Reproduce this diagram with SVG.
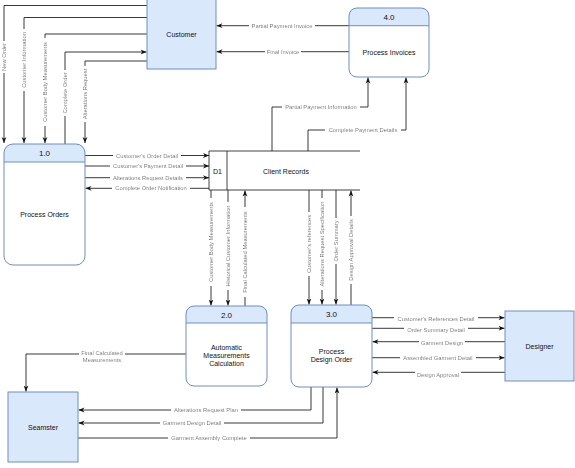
<svg xmlns="http://www.w3.org/2000/svg" width="575" height="468" viewBox="0 0 575 468">
<defs>
<marker id="arr" viewBox="0 0 10 10" refX="10" refY="5" markerWidth="6" markerHeight="6" markerUnits="userSpaceOnUse" orient="auto"><path d="M0,1 L10,5 L0,9 L3,5 z" fill="#111"/></marker>
<filter id="bg" x="-0.04" y="0" width="1.08" height="1"><feFlood flood-color="#ffffff"/><feComposite in="SourceGraphic" operator="over"/></filter>
</defs>
<style>
.ext{fill:#dae8fc;stroke:#6c8ebf;stroke-width:1}
.body{fill:#ffffff;stroke:none}
.hdr{fill:#dae8fc;stroke:none}
.out{fill:none;stroke:#6c8ebf;stroke-width:1}
.sep{stroke:#6c8ebf;stroke-width:1}
.ds{fill:none;stroke:#111;stroke-width:0.8}
.nt{font-family:"Liberation Sans",Arial,sans-serif;font-size:7px;fill:#111;text-anchor:middle;dominant-baseline:central}
.nh{font-family:"Liberation Sans",Arial,sans-serif;font-size:8px;fill:#111;text-anchor:middle;dominant-baseline:central}
.c{fill:none;stroke:#222;stroke-width:0.9}
.a{marker-end:url(#arr)}
.l{font-family:"Liberation Sans",Arial,sans-serif;font-size:5.8px;fill:#111;text-anchor:middle;dominant-baseline:central;filter:url(#bg)}
</style>
<rect width="575" height="468" fill="#ffffff"/>

<g id="connectors">
<path class="c a" d="M147,5.5 H4 V143"/>
<path class="c a" d="M147,17.5 H24 V143"/>
<path class="c a" d="M147,34 H45 V143"/>
<path class="c a" d="M65,144 V52 H146.5"/>
<path class="c a" d="M147,61 H85 V143"/>
<path class="c a" d="M349,25.7 H216.5"/>
<path class="c a" d="M349,51.7 H216.5"/>
<path class="c a" d="M272,151 V107 H368 V77.5"/>
<path class="c a" d="M308,151 V130 H406 V77.5"/>
<path class="c a" d="M85,155.5 H209"/>
<path class="c a" d="M85,166 H209"/>
<path class="c a" d="M85,177.7 H209"/>
<path class="c a" d="M209,188.3 H85.5"/>
<path class="c a" d="M211,190 V305.5"/>
<path class="c a" d="M228,190 V305.5"/>
<path class="c a" d="M245,306 V190.5"/>
<path class="c a" d="M309,190 V304.5"/>
<path class="c a" d="M322,190 V304.5"/>
<path class="c a" d="M336,190 V304.5"/>
<path class="c a" d="M351,305 V190.5"/>
<path class="c a" d="M186,354 H26 V391.5"/>
<path class="c a" d="M311,387 V410 H78.5"/>
<path class="c a" d="M323,387 V423 H78.5"/>
<path class="c a" d="M78,438 H337 V387.5"/>
<path class="c a" d="M372,317.7 H504.5"/>
<path class="c a" d="M372,328.3 H504.5"/>
<path class="c a" d="M505,341.7 H372.5"/>
<path class="c a" d="M372,357.7 H504.5"/>
<path class="c a" d="M505,372.3 H372.5"/>

<text class="l" transform="translate(4,57) rotate(-90)">New Order</text>
<text class="l" transform="translate(24,60) rotate(-90)">Customer Information</text>
<text class="l" transform="translate(45,82) rotate(-90)">Customer Body Measurements</text>
<text class="l" transform="translate(65,93) rotate(-90)">Complete Order</text>
<text class="l" transform="translate(85,94) rotate(-90)">Alterations Request</text>
<text class="l" x="282" y="25.7">Partial Payment Invoice</text>
<text class="l" x="283" y="51.7">Final Invoice</text>
<text class="l" x="321" y="107">Partial Payment Information</text>
<text class="l" x="363" y="130">Complete Payment Details</text>
<text class="l" x="147" y="155.5">Customer's Order Detail</text>
<text class="l" x="148" y="166">Customer's Payment Detail</text>
<text class="l" x="148" y="177.7">Alterations Request Details</text>
<text class="l" x="151" y="188.3">Complete Order Notification</text>
<text class="l" transform="translate(211,242) rotate(-90)">Customer Body Measurements</text>
<text class="l" transform="translate(228,246) rotate(-90)">Historical Customer Information</text>
<text class="l" transform="translate(245,252) rotate(-90)">Final Calculated Measurements</text>
<text class="l" transform="translate(309,244) rotate(-90)">Customer's references</text>
<text class="l" transform="translate(322,244) rotate(-90)">Alterations Request Specification</text>
<text class="l" transform="translate(336,241) rotate(-90)">Order Summary</text>
<text class="l" transform="translate(351,250) rotate(-90)">Design Approval Details</text>
<text class="l" x="102" y="353">Final Calculated</text>
<text class="l" x="102" y="360">Measurements</text>
<text class="l" x="206" y="410">Alterations Request Plan</text>
<text class="l" x="192" y="423">Garment Design Detail</text>
<text class="l" x="209" y="438">Garment Assembly Complete</text>
<text class="l" x="436" y="318.7">Customer's References Detail</text>
<text class="l" x="436" y="330">Order Summary Detail</text>
<text class="l" x="442" y="343.3">Garment Design</text>
<text class="l" x="438" y="358">Assembled Garment Detail</text>
<text class="l" x="438" y="374.7">Design Approval</text>
</g>

<g id="customer">
<rect class="ext" x="147" y="-1" width="69" height="70"/>
<text class="nt" x="181.5" y="34">Customer</text>
</g>

<g id="p4">
<rect class="body" x="349" y="8" width="80" height="69" rx="8"/>
<path class="hdr" d="M349,25.7 V16 Q349,8 357,8 H421 Q429,8 429,16 V25.7 Z"/>
<line class="sep" x1="349" y1="25.7" x2="429" y2="25.7"/>
<rect class="out" x="349" y="8" width="80" height="69" rx="8"/>
<text class="nh" x="389" y="17">4.0</text>
<text class="nt" x="389" y="52">Process Invoices</text>
</g>

<g id="p1">
<rect class="body" x="4" y="144" width="81" height="121" rx="9"/>
<path class="hdr" d="M4,162 V153 Q4,144 13,144 H76 Q85,144 85,153 V162 Z"/>
<line class="sep" x1="4" y1="162" x2="85" y2="162"/>
<rect class="out" x="4" y="144" width="81" height="121" rx="9"/>
<text class="nh" x="44.5" y="153.5">1.0</text>
<text class="nt" x="44.5" y="214">Process Orders</text>
</g>

<g id="d1">
<rect class="body" x="209" y="151" width="151" height="39"/>
<path class="ds" d="M360,151 H209 V190 H360 M227,151 V190"/>
<text class="nt" x="217.5" y="171">D1</text>
<text class="nt" x="286" y="171">Client Records</text>
</g>

<g id="p2">
<rect class="body" x="186" y="306" width="81" height="80" rx="8"/>
<path class="hdr" d="M186,323 V314 Q186,306 194,306 H259 Q267,306 267,314 V323 Z"/>
<line class="sep" x1="186" y1="323" x2="267" y2="323"/>
<rect class="out" x="186" y="306" width="81" height="80" rx="8"/>
<text class="nh" x="226.5" y="315">2.0</text>
<text class="nt" x="226.5" y="347">Automatic</text>
<text class="nt" x="226.5" y="355">Measurements</text>
<text class="nt" x="226.5" y="363">Calculation</text>
</g>

<g id="p3">
<rect class="body" x="291" y="305" width="81" height="82" rx="8"/>
<path class="hdr" d="M291,323 V313 Q291,305 299,305 H364 Q372,305 372,313 V323 Z"/>
<line class="sep" x1="291" y1="323" x2="372" y2="323"/>
<rect class="out" x="291" y="305" width="81" height="82" rx="8"/>
<text class="nh" x="331.5" y="314.5">3.0</text>
<text class="nt" x="331.5" y="351">Process</text>
<text class="nt" x="331.5" y="359">Design Order</text>
</g>

<g id="designer">
<rect class="ext" x="505" y="311" width="69" height="70"/>
<text class="nt" x="539.5" y="346">Designer</text>
</g>

<g id="seamster">
<rect class="ext" x="8" y="392" width="70" height="70"/>
<text class="nt" x="43" y="427">Seamster</text>
</g>
</svg>
